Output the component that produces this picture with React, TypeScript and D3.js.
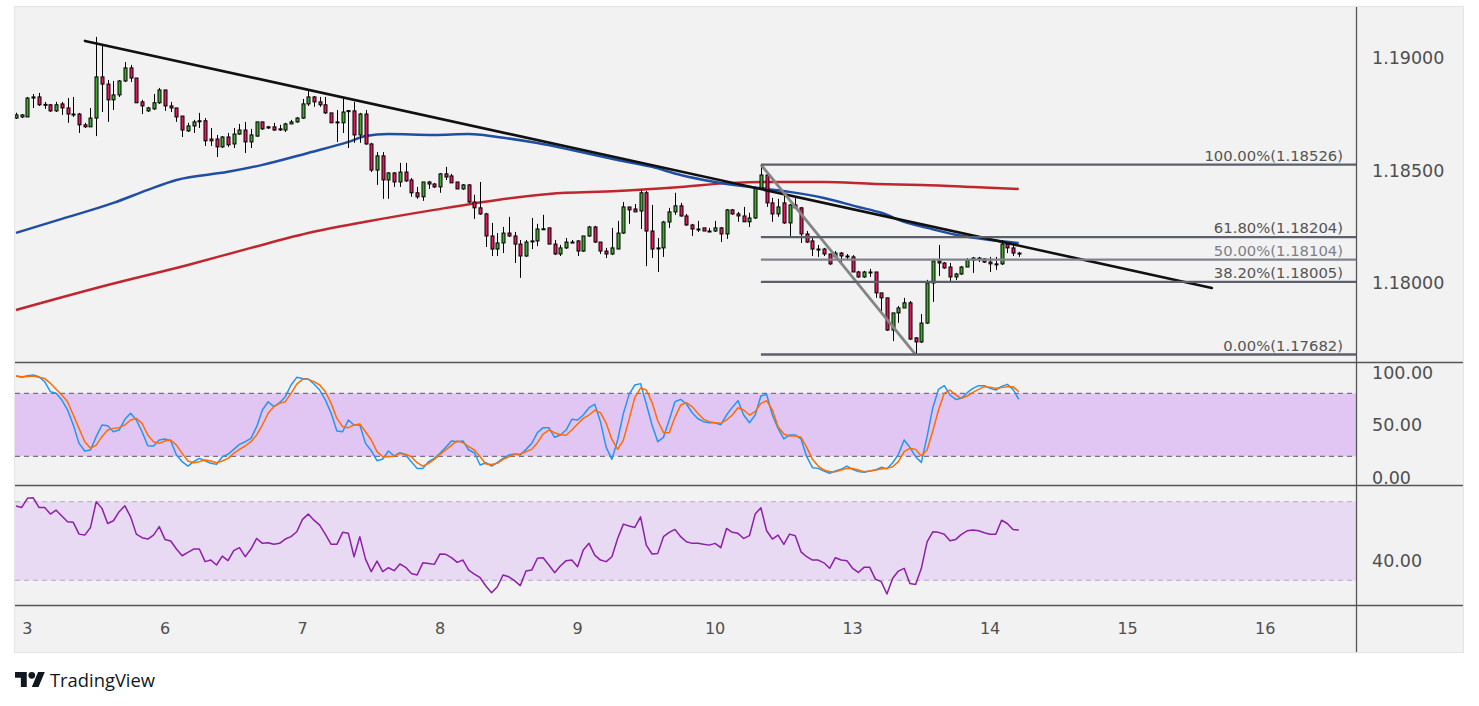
import React from 'react'
import * as d3 from 'd3'

// ── Hourly candles (bar index 0 = first visible bar) ─────────────────────────
const OPEN = [
  1.18733, 1.18738, 1.18738, 1.18822, 1.18827, 1.18792, 1.18792, 1.18765, 1.18796, 1.18778,
  1.18751, 1.18751, 1.18703, 1.18694, 1.18733, 1.18916, 1.18884, 1.18814, 1.18836, 1.18898,
  1.18956, 1.18911, 1.18805, 1.18765, 1.18774, 1.18801, 1.18858, 1.18787, 1.18778, 1.18742,
  1.18676, 1.18698, 1.18721, 1.18721, 1.18640, 1.18640, 1.18605, 1.18649, 1.18618, 1.18662,
  1.18680, 1.18627, 1.18653, 1.18716, 1.18694, 1.18694, 1.18685, 1.18680, 1.18707, 1.18716,
  1.18733, 1.18796, 1.18827, 1.18805, 1.18792, 1.18756, 1.18716, 1.18712, 1.18765, 1.18765,
  1.18658, 1.18751, 1.18618, 1.18502, 1.18565, 1.18458, 1.18489, 1.18449, 1.18493, 1.18458,
  1.18401, 1.18383, 1.18449, 1.18440, 1.18427, 1.18485, 1.18476, 1.18449, 1.18418, 1.18436,
  1.18360, 1.18334, 1.18307, 1.18209, 1.18151, 1.18178, 1.18222, 1.18209, 1.18173, 1.18120,
  1.18187, 1.18187, 1.18240, 1.18245, 1.18173, 1.18129, 1.18156, 1.18182, 1.18187, 1.18142,
  1.18209, 1.18249, 1.18182, 1.18142, 1.18129, 1.18151, 1.18222, 1.18338, 1.18329, 1.18320,
  1.18401, 1.18231, 1.18156, 1.18156, 1.18271, 1.18316, 1.18343, 1.18298, 1.18258, 1.18240,
  1.18245, 1.18231, 1.18231, 1.18245, 1.18218, 1.18325, 1.18307, 1.18298, 1.18272, 1.18289,
  1.18422, 1.18480, 1.18356, 1.18307, 1.18356, 1.18267, 1.18347, 1.18334, 1.18218, 1.18187,
  1.18151, 1.18151, 1.18129, 1.18116, 1.18133, 1.18120, 1.18116, 1.18049, 1.18027, 1.18049,
  1.18049, 1.17956, 1.17934, 1.17791, 1.17867, 1.17889, 1.17912, 1.17756, 1.17738, 1.17822,
  1.18000, 1.18098, 1.18089, 1.18071, 1.18027, 1.18040, 1.18071, 1.18102, 1.18111, 1.18107,
  1.18093, 1.18085, 1.18085, 1.18173, 1.18156, 1.18133,
]
const HIGH = [
  1.18757, 1.18751, 1.18827, 1.18840, 1.18845, 1.18805, 1.18796, 1.18805, 1.18805, 1.18822,
  1.18827, 1.18756, 1.18712, 1.18778, 1.19094, 1.19062, 1.18902, 1.18898, 1.18902, 1.18982,
  1.18969, 1.18911, 1.18814, 1.18783, 1.18840, 1.18867, 1.18858, 1.18805, 1.18778, 1.18742,
  1.18712, 1.18725, 1.18756, 1.18733, 1.18689, 1.18658, 1.18653, 1.18667, 1.18689, 1.18707,
  1.18716, 1.18685, 1.18716, 1.18716, 1.18698, 1.18712, 1.18703, 1.18712, 1.18725, 1.18738,
  1.18818, 1.18858, 1.18831, 1.18827, 1.18827, 1.18756, 1.18769, 1.18822, 1.18769, 1.18805,
  1.18756, 1.18769, 1.18623, 1.18582, 1.18582, 1.18493, 1.18493, 1.18534, 1.18534, 1.18467,
  1.18427, 1.18449, 1.18454, 1.18445, 1.18489, 1.18516, 1.18485, 1.18449, 1.18440, 1.18440,
  1.18392, 1.18449, 1.18312, 1.18267, 1.18222, 1.18249, 1.18294, 1.18227, 1.18191, 1.18191,
  1.18289, 1.18263, 1.18303, 1.18245, 1.18191, 1.18169, 1.18200, 1.18191, 1.18191, 1.18209,
  1.18254, 1.18254, 1.18182, 1.18156, 1.18245, 1.18276, 1.18360, 1.18338, 1.18351, 1.18414,
  1.18409, 1.18347, 1.18200, 1.18276, 1.18334, 1.18401, 1.18356, 1.18307, 1.18263, 1.18276,
  1.18245, 1.18245, 1.18276, 1.18249, 1.18329, 1.18329, 1.18316, 1.18338, 1.18312, 1.18427,
  1.18526, 1.18485, 1.18378, 1.18374, 1.18409, 1.18351, 1.18383, 1.18338, 1.18231, 1.18209,
  1.18169, 1.18156, 1.18129, 1.18142, 1.18138, 1.18129, 1.18124, 1.18054, 1.18054, 1.18063,
  1.18049, 1.17956, 1.17934, 1.17867, 1.17898, 1.17934, 1.17920, 1.17760, 1.17862, 1.18014,
  1.18107, 1.18169, 1.18093, 1.18089, 1.18045, 1.18076, 1.18111, 1.18116, 1.18116, 1.18111,
  1.18116, 1.18116, 1.18191, 1.18178, 1.18169, 1.18138,
]
const LOW = [
  1.18729, 1.18733, 1.18738, 1.18778, 1.18787, 1.18774, 1.18760, 1.18760, 1.18747, 1.18712,
  1.18738, 1.18667, 1.18689, 1.18694, 1.18653, 1.18760, 1.18716, 1.18769, 1.18827, 1.18893,
  1.18893, 1.18801, 1.18751, 1.18760, 1.18769, 1.18796, 1.18765, 1.18760, 1.18716, 1.18649,
  1.18671, 1.18667, 1.18689, 1.18609, 1.18609, 1.18560, 1.18600, 1.18605, 1.18600, 1.18658,
  1.18578, 1.18600, 1.18649, 1.18680, 1.18685, 1.18676, 1.18676, 1.18671, 1.18707, 1.18712,
  1.18729, 1.18787, 1.18783, 1.18783, 1.18751, 1.18712, 1.18627, 1.18667, 1.18600, 1.18623,
  1.18623, 1.18614, 1.18493, 1.18436, 1.18374, 1.18374, 1.18427, 1.18427, 1.18449, 1.18383,
  1.18374, 1.18365, 1.18418, 1.18422, 1.18401, 1.18458, 1.18445, 1.18418, 1.18414, 1.18356,
  1.18285, 1.18303, 1.18160, 1.18120, 1.18120, 1.18133, 1.18205, 1.18089, 1.18023, 1.18116,
  1.18151, 1.18164, 1.18240, 1.18173, 1.18124, 1.18120, 1.18151, 1.18178, 1.18120, 1.18138,
  1.18205, 1.18178, 1.18129, 1.18111, 1.18124, 1.18151, 1.18218, 1.18263, 1.18316, 1.18240,
  1.18075, 1.18111, 1.18049, 1.18116, 1.18245, 1.18303, 1.18294, 1.18254, 1.18209, 1.18227,
  1.18231, 1.18227, 1.18227, 1.18182, 1.18196, 1.18303, 1.18272, 1.18272, 1.18249, 1.18285,
  1.18418, 1.18338, 1.18272, 1.18294, 1.18263, 1.18209, 1.18329, 1.18178, 1.18178, 1.18120,
  1.18116, 1.18120, 1.18080, 1.18116, 1.18089, 1.18102, 1.18049, 1.18023, 1.18023, 1.18027,
  1.17934, 1.17871, 1.17787, 1.17742, 1.17823, 1.17889, 1.17747, 1.17682, 1.17733, 1.17818,
  1.17916, 1.18031, 1.18063, 1.18009, 1.18014, 1.18036, 1.18071, 1.18045, 1.18093, 1.18089,
  1.18049, 1.18058, 1.18080, 1.18133, 1.18120, 1.18116,
]
const CLOSE = [
  1.18747, 1.18747, 1.18822, 1.18827, 1.18792, 1.18794, 1.18765, 1.18792, 1.18778, 1.18751,
  1.18750, 1.18703, 1.18694, 1.18733, 1.18916, 1.18884, 1.18814, 1.18836, 1.18898, 1.18956,
  1.18911, 1.18801, 1.18787, 1.18778, 1.18801, 1.18858, 1.18787, 1.18778, 1.18738, 1.18680,
  1.18698, 1.18716, 1.18720, 1.18632, 1.18632, 1.18605, 1.18649, 1.18614, 1.18662, 1.18680,
  1.18627, 1.18658, 1.18716, 1.18685, 1.18689, 1.18680, 1.18684, 1.18707, 1.18716, 1.18733,
  1.18796, 1.18827, 1.18805, 1.18792, 1.18756, 1.18712, 1.18715, 1.18760, 1.18766, 1.18658,
  1.18751, 1.18618, 1.18502, 1.18565, 1.18458, 1.18489, 1.18449, 1.18493, 1.18454, 1.18401,
  1.18383, 1.18449, 1.18440, 1.18427, 1.18485, 1.18471, 1.18445, 1.18418, 1.18436, 1.18360,
  1.18334, 1.18307, 1.18209, 1.18151, 1.18178, 1.18222, 1.18209, 1.18173, 1.18120, 1.18182,
  1.18186, 1.18240, 1.18241, 1.18173, 1.18129, 1.18156, 1.18182, 1.18181, 1.18142, 1.18209,
  1.18249, 1.18182, 1.18142, 1.18129, 1.18156, 1.18222, 1.18338, 1.18325, 1.18316, 1.18401,
  1.18231, 1.18151, 1.18155, 1.18271, 1.18316, 1.18343, 1.18298, 1.18258, 1.18240, 1.18239,
  1.18231, 1.18230, 1.18245, 1.18218, 1.18325, 1.18307, 1.18298, 1.18272, 1.18289, 1.18422,
  1.18480, 1.18356, 1.18307, 1.18338, 1.18267, 1.18347, 1.18334, 1.18218, 1.18182, 1.18151,
  1.18150, 1.18129, 1.18085, 1.18133, 1.18120, 1.18119, 1.18049, 1.18027, 1.18049, 1.18048,
  1.17956, 1.17934, 1.17791, 1.17867, 1.17889, 1.17912, 1.17751, 1.17738, 1.17822, 1.18000,
  1.18098, 1.18089, 1.18067, 1.18027, 1.18040, 1.18071, 1.18102, 1.18111, 1.18110, 1.18093,
  1.18085, 1.18084, 1.18173, 1.18156, 1.18133, 1.18132,
]

const BLUE_MA_BAR = [0, 8, 17, 23, 28, 37, 43, 51, 58, 61, 65, 73, 79, 84, 91, 97, 105, 111, 116, 122, 131, 135, 141, 147, 151, 155, 159, 164, 170, 175]
const BLUE_MA = [1.18223, 1.18285, 1.18356, 1.18414, 1.18458, 1.18494, 1.18525, 1.18578, 1.18627, 1.18653, 1.18662, 1.18658, 1.18662, 1.18649, 1.18622, 1.18591, 1.18547, 1.18516, 1.18480, 1.18449, 1.18418, 1.18405, 1.18378, 1.18338, 1.18312, 1.18272, 1.18245, 1.18214, 1.18191, 1.18178]
const RED_MA_BAR = [0, 16, 30, 41, 51, 61, 73, 84, 93, 105, 116, 125, 132, 141, 150, 158, 167, 175]
const RED_MA = [1.17880, 1.17991, 1.18080, 1.18156, 1.18222, 1.18272, 1.18325, 1.18369, 1.18396, 1.18409, 1.18427, 1.18445, 1.18449, 1.18449, 1.18440, 1.18436, 1.18427, 1.18418]

// ── Drawings ─────────────────────────────────────────────────────────────────
const TREND_BARS = [12.04, 208.7]
const TREND_PRICES = [1.19076, 1.17978]
const FIB_FROM_BAR = 130
const FIB_TO_BAR = 157
const FIB_PRICES = [1.18526, 1.18204, 1.18104, 1.18005, 1.17682]
const FIB_LABELS = ['100.00%(1.18526)', '61.80%(1.18204)', '50.00%(1.18104)', '38.20%(1.18005)', '0.00%(1.17682)']

// ── Stochastic %K / %D ───────────────────────────────────────────────────────
const STOCH_K = [
  96.5, 95.2, 96.8, 97.4, 95.8, 91.1, 81.5, 80.0, 73.6, 64.1,
  49.8, 32.3, 25.0, 26.0, 38.7, 49.8, 49.2, 43.4, 45.0, 55.2,
  60.9, 54.6, 43.4, 30.1, 29.8, 35.5, 36.5, 34.9, 21.2, 14.9,
  10.7, 14.9, 18.0, 15.8, 13.3, 12.3, 19.6, 21.9, 26.6, 31.4,
  33.9, 37.1, 48.2, 64.1, 72.0, 67.3, 71.1, 76.8, 87.9, 95.2,
  94.2, 93.6, 88.8, 83.1, 73.6, 60.9, 44.1, 43.4, 54.6, 49.8,
  49.8, 32.3, 25.3, 15.8, 17.4, 25.0, 20.3, 23.4, 21.2, 14.9,
  8.5, 8.5, 14.9, 18.0, 22.8, 28.5, 34.6, 33.9, 34.6, 26.0,
  23.4, 11.7, 13.9, 10.7, 13.9, 18.0, 21.2, 22.2, 21.2, 26.6,
  32.3, 42.5, 47.3, 47.3, 38.1, 40.3, 45.0, 55.2, 54.6, 59.3,
  66.3, 69.5, 53.0, 28.5, 17.1, 35.5, 60.9, 79.0, 87.9, 89.2,
  69.8, 49.8, 33.9, 38.1, 54.6, 72.0, 74.2, 69.8, 61.5, 55.8,
  53.0, 52.0, 52.0, 50.1, 59.3, 66.6, 73.0, 59.3, 52.0, 59.3,
  77.4, 79.0, 59.3, 46.6, 36.5, 40.3, 40.3, 36.5, 19.6, 9.2,
  8.5, 6.0, 3.8, 6.0, 7.6, 10.7, 7.6, 5.4, 4.7, 6.0,
  7.0, 9.5, 8.2, 13.9, 21.9, 35.5, 28.5, 19.6, 14.2, 38.7,
  66.3, 83.8, 87.3, 78.4, 74.2, 75.2, 80.6, 84.7, 87.3, 87.3,
  84.7, 83.1, 86.6, 88.5, 83.8, 74.2,
]
const STOCH_D = [
  96.5, 95.8, 96.1, 96.5, 95.2, 94.2, 89.5, 83.8, 78.4, 72.0,
  59.3, 46.6, 33.9, 27.6, 30.7, 38.7, 45.0, 46.6, 47.3, 49.8,
  54.6, 56.1, 51.4, 40.3, 33.9, 32.3, 34.6, 35.5, 30.7, 22.8,
  15.5, 13.9, 14.9, 16.5, 15.5, 13.9, 15.5, 18.0, 22.8, 26.6,
  29.8, 33.9, 40.3, 49.8, 60.9, 67.3, 70.4, 72.0, 80.0, 88.8,
  93.3, 93.3, 91.1, 87.9, 81.5, 70.4, 56.1, 48.2, 47.3, 49.8,
  50.7, 43.4, 35.5, 24.4, 19.6, 19.6, 20.3, 22.8, 21.9, 19.6,
  13.9, 10.7, 13.3, 17.1, 21.9, 26.0, 30.7, 34.6, 33.0, 29.2,
  26.0, 19.6, 12.7, 12.3, 13.3, 17.1, 19.6, 21.9, 22.2, 24.4,
  26.6, 33.0, 41.2, 45.0, 42.5, 40.6, 40.0, 45.0, 50.7, 56.1,
  59.3, 63.8, 61.5, 51.4, 36.1, 26.6, 35.5, 55.2, 76.1, 85.0,
  83.1, 71.4, 53.9, 42.5, 42.5, 57.1, 68.8, 71.1, 67.3, 60.9,
  55.2, 53.0, 52.0, 51.4, 54.6, 59.3, 66.3, 64.1, 59.3, 62.5,
  70.4, 73.0, 64.1, 48.2, 41.2, 39.3, 39.3, 38.1, 28.5, 17.1,
  10.7, 6.9, 5.3, 5.3, 6.9, 8.5, 8.5, 6.9, 5.3, 6.0,
  6.9, 7.9, 8.5, 10.1, 14.9, 24.4, 27.6, 26.6, 20.3, 26.0,
  44.1, 64.1, 80.0, 83.1, 78.4, 75.2, 77.4, 80.9, 83.8, 86.3,
  85.7, 84.7, 85.4, 86.3, 86.3, 81.5,
]

// ── RSI ──────────────────────────────────────────────────────────────────────
const RSI = [
  67.8, 67.1, 71.7, 72.0, 67.1, 67.1, 63.7, 65.7, 62.7, 59.8,
  59.5, 53.5, 53.0, 56.9, 70.0, 66.6, 58.9, 60.3, 64.9, 67.9,
  62.3, 53.5, 51.7, 51.0, 53.0, 57.3, 50.8, 50.0, 45.9, 42.5,
  44.2, 45.9, 45.9, 39.5, 40.3, 37.8, 42.3, 40.0, 45.1, 46.6,
  42.0, 45.9, 51.3, 48.8, 49.1, 48.3, 48.8, 51.0, 52.2, 54.7,
  61.0, 63.7, 60.6, 58.1, 53.4, 48.3, 48.3, 54.4, 53.9, 42.0,
  52.2, 40.8, 34.4, 39.8, 34.4, 36.4, 34.9, 38.3, 36.6, 33.5,
  32.7, 38.9, 38.6, 38.1, 43.4, 43.2, 41.5, 39.1, 40.3, 35.2,
  33.2, 31.3, 27.1, 23.7, 26.7, 32.7, 31.8, 29.8, 27.3, 34.7,
  35.2, 41.2, 41.5, 37.8, 33.9, 37.3, 40.0, 40.3, 36.9, 45.4,
  48.8, 42.8, 40.3, 39.5, 42.0, 51.3, 58.6, 57.6, 56.9, 62.3,
  47.9, 43.4, 43.7, 52.2, 54.4, 55.9, 52.2, 49.6, 48.8, 48.8,
  48.3, 47.9, 48.8, 46.6, 56.4, 54.4, 53.9, 51.3, 52.7, 63.7,
  66.9, 55.2, 51.0, 53.0, 48.3, 53.5, 52.7, 44.5, 42.0, 40.3,
  40.3, 38.9, 36.1, 41.5, 40.3, 40.0, 36.1, 34.0, 36.6, 36.6,
  30.5, 29.3, 23.0, 31.0, 34.7, 36.1, 28.4, 27.9, 36.1, 49.6,
  54.7, 54.4, 53.4, 50.1, 50.8, 53.4, 55.2, 55.6, 55.2, 54.2,
  53.4, 53.4, 60.6, 58.9, 55.9, 55.6,
]

// ── Axes ─────────────────────────────────────────────────────────────────────
const DAY_LABELS = ['3', '6', '7', '8', '9', '10', '13', '14', '15', '16']
const DAY_START_BAR = [2, 26, 50, 74, 98, 122, 146, 170, 194, 218]
const PRICE_TICKS = [1.19, 1.185, 1.18]
const STOCH_TICKS = [100, 50, 0]
const RSI_TICKS = [40]

const FONT = '"DejaVu Sans", Verdana, sans-serif'
const UP = '#42a92e'
const DOWN = '#e8185e'
const AXIS_X = 1356.5
const LEFT = 15
const RIGHT = 1463

export default function App() {
  const x = d3.scaleLinear().domain([0, 218]).range([16, 16 + 218 * 5.73])
  const yP = d3.scaleLinear().domain([1.18, 1.19]).range([283, 58])
  const yS = d3.scaleLinear().domain([0, 100]).range([477.3, 372.3])
  const yR = d3.scaleLinear().domain([30, 70]).range([580.3, 501.7])

  const maLine = d3.line<[number, number]>().x(d => x(d[0])).y(d => yP(d[1])).curve(d3.curveMonotoneX)
  const stochLine = d3.line<number>().x((_, i) => x(i)).y(d => yS(d))
  const rsiLine = d3.line<number>().x((_, i) => x(i)).y(d => yR(d))

  const blue = BLUE_MA_BAR.map((b, i) => [b, BLUE_MA[i]] as [number, number])
  const red = RED_MA_BAR.map((b, i) => [b, RED_MA[i]] as [number, number])

  const fibX0 = x(FIB_FROM_BAR)

  return (
    <svg width={1479} height={706} style={{ position: 'absolute', left: 0, top: 0, background: '#fff' }}>
      <defs>
        <clipPath id="main"><rect x={LEFT} y={7} width={AXIS_X - LEFT} height={355.5} /></clipPath>
        <clipPath id="stoch"><rect x={LEFT} y={362.5} width={AXIS_X - LEFT} height={123} /></clipPath>
        <clipPath id="rsi"><rect x={LEFT} y={485.5} width={AXIS_X - LEFT} height={120} /></clipPath>
      </defs>

      {/* frame */}
      <rect x={LEFT - 0.5} y={6.5} width={RIGHT - LEFT + 1} height={646} fill="#f2f2f2" stroke="#e4e4e6" />

      {/* stochastic band */}
      <rect x={LEFT} y={yS(80)} width={AXIS_X - LEFT} height={yS(20) - yS(80)} fill="#e1c6f4" />
      {[80, 20].map(v => (
        <line key={v} x1={LEFT} x2={AXIS_X} y1={yS(v)} y2={yS(v)} stroke="#5f5668" strokeDasharray="5 4" strokeWidth={1} />
      ))}
      {/* RSI band */}
      <rect x={LEFT} y={yR(70)} width={AXIS_X - LEFT} height={yR(30) - yR(70)} fill="#e8daf3" />
      {[70, 30].map(v => (
        <line key={v} x1={LEFT} x2={AXIS_X} y1={yR(v)} y2={yR(v)} stroke="#b9a9c6" strokeDasharray="5 4" strokeWidth={1} />
      ))}

      {/* pane separators and price axis line */}
      {[362.5, 485.5, 605.5].map(y => (
        <line key={y} x1={LEFT} x2={RIGHT} y1={y} y2={y} stroke="#555" strokeWidth={1.3} />
      ))}
      <line x1={AXIS_X} x2={AXIS_X} y1={7} y2={652} stroke="#555" strokeWidth={1.3} />

      <g clipPath="url(#main)">
        {/* moving averages */}
        <path d={maLine(red) ?? ''} fill="none" stroke="#c0262d" strokeWidth={2.5} />
        <path d={maLine(blue) ?? ''} fill="none" stroke="#1f4ea3" strokeWidth={2.5} />

        {/* candles */}
        {OPEN.map((o, i) => {
          const c = CLOSE[i]
          const cx = Math.round(x(i)) + 0.5
          const top = yP(Math.max(o, c))
          const bot = yP(Math.min(o, c))
          return (
            <g key={i}>
              <line x1={cx} x2={cx} y1={yP(HIGH[i])} y2={yP(LOW[i])} stroke="#000" strokeWidth={1} />
              <rect x={cx - 1.5} y={top} width={3} height={Math.max(1, bot - top)} fill={c >= o ? UP : DOWN} stroke="#000" strokeWidth={1} />
            </g>
          )
        })}

        {/* descending trendline */}
        <line x1={x(TREND_BARS[0])} y1={yP(TREND_PRICES[0])} x2={x(TREND_BARS[1])} y2={yP(TREND_PRICES[1])} stroke="#111" strokeWidth={2.6} strokeLinecap="round" />

        {/* fib retracement */}
        <line x1={x(FIB_FROM_BAR)} y1={yP(FIB_PRICES[0])} x2={x(FIB_TO_BAR)} y2={yP(FIB_PRICES[4])} stroke="#858585" strokeWidth={2.8} />
        {FIB_PRICES.map((p, i) => {
          const light = i === 2
          return (
            <g key={p}>
              <line x1={fibX0} x2={AXIS_X} y1={yP(p)} y2={yP(p)} stroke={light ? '#80838d' : '#5d606b'} strokeWidth={2.4} />
              <text x={1343} y={yP(p) - 4} textAnchor="end" fontFamily={FONT} fontSize={14.8} fill={light ? '#7d7f88' : '#555'}>
                {FIB_LABELS[i]}
              </text>
            </g>
          )
        })}
      </g>

      {/* stochastic */}
      <g clipPath="url(#stoch)" fill="none" strokeWidth={1.5} strokeLinejoin="round">
        <path d={stochLine(STOCH_K) ?? ''} stroke="#2196f3" />
        <path d={stochLine(STOCH_D) ?? ''} stroke="#ff6d00" />
      </g>

      {/* RSI */}
      <g clipPath="url(#rsi)">
        <path d={rsiLine(RSI) ?? ''} fill="none" stroke="#8e1fa8" strokeWidth={1.5} strokeLinejoin="round" />
      </g>

      {/* price axis labels */}
      <g fontFamily={FONT} fontSize={17.5} fill="#4f4f4f">
        {PRICE_TICKS.map(t => (
          <text key={t} x={1372} y={yP(t)} dy="0.36em">{t.toFixed(5)}</text>
        ))}
        {STOCH_TICKS.map(t => (
          <text key={t} x={1372} y={yS(t)} dy="0.36em">{t.toFixed(2)}</text>
        ))}
        {RSI_TICKS.map(t => (
          <text key={t} x={1372} y={yR(t)} dy="0.36em">{t.toFixed(2)}</text>
        ))}
      </g>

      {/* time axis labels */}
      <g fontFamily={FONT} fontSize={16} fill="#4f4f4f" textAnchor="middle">
        {DAY_LABELS.map((d, i) => (
          <text key={d} x={x(DAY_START_BAR[i])} y={634}>{d}</text>
        ))}
      </g>

      {/* TradingView mark */}
      <g transform="translate(15, 668.6) scale(0.84)" fill="#131722">
        <path d="M14 22H7V11H0V4h14v18zM28 22h-8l7.5-18h8L28 22z" />
        <circle cx={20} cy={8} r={4} />
      </g>
      <text x={50} y={687} fontFamily='"Open Sans", "Noto Sans", sans-serif' fontSize={18.5} fill="#131722" textLength={105} lengthAdjust="spacingAndGlyphs">
        TradingView
      </text>
    </svg>
  )
}
